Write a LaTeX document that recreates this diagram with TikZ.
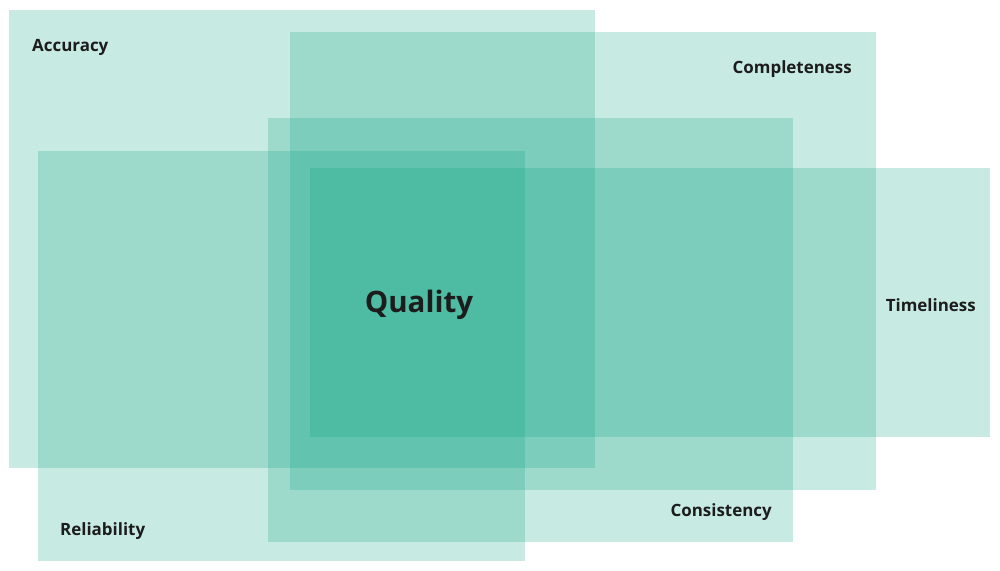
\documentclass[tikz,border=0pt]{standalone}
\usepackage{fontspec}
\setmainfont{Open Sans}
\usepackage{tikz}
\definecolor{tealclr}  {RGB}{14, 164, 130}
\definecolor{darktext} {RGB}{28,  28,  28}

\begin{document}
\begin{tikzpicture}[x=1bp, y=-1bp,
  area/.style={fill=tealclr, fill opacity=0.23, draw=none, inner sep=0pt},
  lbl/.style={darktext, font=\fontsize{17}{20}\selectfont\bfseries, inner sep=0pt}]
  \useasboundingbox (0,0) rectangle (1000,571);
  % overlapping areas
  \node[area, minimum width=586bp, minimum height=458bp] (acc)  at (302,239)   {};
  \node[area, minimum width=586bp, minimum height=458bp] (comp) at (583,261)   {};
  \node[area, minimum width=525bp, minimum height=424bp] (cons) at (530.5,330) {};
  \node[area, minimum width=487bp, minimum height=410bp] (rel)  at (281.5,356) {};
  \node[area, minimum width=680bp, minimum height=269bp] (time) at (650,302.5) {};
  % labels
  \node[lbl, anchor=west] (acclbl)  at (32,47)   {Accuracy};
  \node[lbl, anchor=east] (complbl) at (852,69)  {Completeness};
  \node[lbl, anchor=east] (timelbl) at (976,305) {Timeliness};
  \node[lbl, anchor=east] (conslbl) at (772,512) {Consistency};
  \node[lbl, anchor=west] (rellbl)  at (60,531)  {Reliability};
  \node[darktext, font=\fontsize{29.6}{34}\selectfont\bfseries] (quality) at (419,305) {Quality};
\end{tikzpicture}
\end{document}
